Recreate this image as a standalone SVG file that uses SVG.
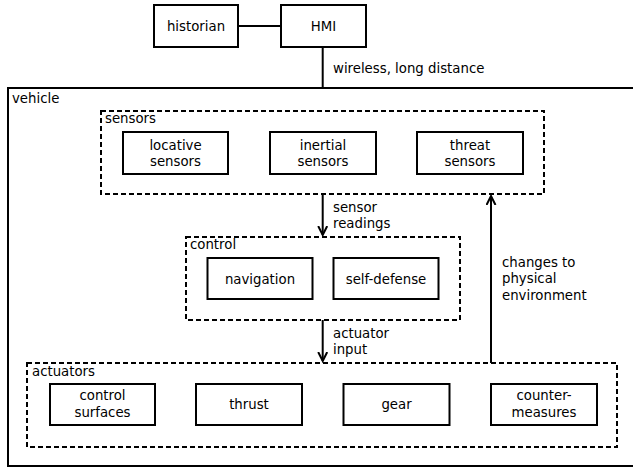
<svg xmlns="http://www.w3.org/2000/svg" width="633" height="469" viewBox="0 0 633 469">
<style>
text{font-family:"DejaVu Sans","Liberation Sans",sans-serif;font-size:13.3px;fill:#000}
.c{text-anchor:middle}
.box{fill:#fff;stroke:#000;stroke-width:2}
.grp{fill:none;stroke:#000;stroke-width:2;stroke-dasharray:5,3}
.ln{fill:none;stroke:#000;stroke-width:2}
</style>
<defs>
<marker id="ah" markerWidth="12" markerHeight="12" refX="9" refY="5" orient="auto" markerUnits="userSpaceOnUse">
<path d="M0,0.5 L9,5 L0,9.5" fill="none" stroke="#000" stroke-width="2"/>
</marker>
</defs>
<rect width="633" height="469" fill="#fff"/>
<g id="vehicle">
<rect x="8" y="88" width="640" height="378" class="box"/>
<text x="12" y="103">vehicle</text>
</g>
<g id="connectors">
<line x1="238" y1="26" x2="281" y2="26" class="ln"/>
<line x1="322.7" y1="47" x2="322.7" y2="88" class="ln"/>
<text x="333" y="73">wireless, long distance</text>
<line x1="322.7" y1="194" x2="322.7" y2="235" class="ln" marker-end="url(#ah)"/>
<text x="333" y="212">sensor</text>
<text x="333" y="228">readings</text>
<line x1="322.7" y1="320" x2="322.7" y2="361" class="ln" marker-end="url(#ah)"/>
<text x="333" y="338">actuator</text>
<text x="333" y="354">input</text>
<line x1="491" y1="363" x2="491" y2="196" class="ln" marker-end="url(#ah)"/>
<text x="502" y="267">changes to</text>
<text x="502" y="283">physical</text>
<text x="502" y="300">environment</text>
</g>
<g id="historian">
<rect x="154" y="5" width="84" height="42" class="box"/>
<text x="196" y="31" class="c">historian</text>
</g>
<g id="hmi">
<rect x="281" y="5" width="85" height="42" class="box"/>
<text x="323.5" y="31" class="c">HMI</text>
</g>
<g id="sensors">
<rect x="101" y="111" width="443" height="83" class="grp"/>
<text x="105" y="122.5">sensors</text>
</g>
<g id="locative-sensors">
<rect x="123" y="132" width="105" height="42" class="box"/>
<text x="175.5" y="150" class="c">locative</text>
<text x="175.5" y="166" class="c">sensors</text>
</g>
<g id="inertial-sensors">
<rect x="270" y="132" width="106" height="42" class="box"/>
<text x="323" y="150" class="c">inertial</text>
<text x="323" y="166" class="c">sensors</text>
</g>
<g id="threat-sensors">
<rect x="417" y="132" width="106" height="42" class="box"/>
<text x="470" y="150" class="c">threat</text>
<text x="470" y="166" class="c">sensors</text>
</g>
<g id="control">
<rect x="186" y="237" width="274" height="83" class="grp"/>
<text x="190" y="249">control</text>
</g>
<g id="navigation">
<rect x="207.5" y="258" width="105" height="41" class="box"/>
<text x="260" y="283.5" class="c">navigation</text>
</g>
<g id="self-defense">
<rect x="333.5" y="258" width="105" height="41" class="box"/>
<text x="386" y="283.5" class="c">self-defense</text>
</g>
<g id="actuators">
<rect x="27" y="363" width="590" height="84" class="grp"/>
<text x="32" y="376">actuators</text>
</g>
<g id="control-surfaces">
<rect x="50" y="384" width="105" height="41" class="box"/>
<text x="102.5" y="400" class="c">control</text>
<text x="102.5" y="416.5" class="c">surfaces</text>
</g>
<g id="thrust">
<rect x="196" y="384" width="106" height="41" class="box"/>
<text x="249" y="409" class="c">thrust</text>
</g>
<g id="gear">
<rect x="343.5" y="384" width="106" height="41" class="box"/>
<text x="396.5" y="409" class="c">gear</text>
</g>
<g id="counter-measures">
<rect x="491" y="384" width="106" height="41" class="box"/>
<text x="544" y="400" class="c">counter-</text>
<text x="544" y="416.5" class="c">measures</text>
</g>
</svg>
